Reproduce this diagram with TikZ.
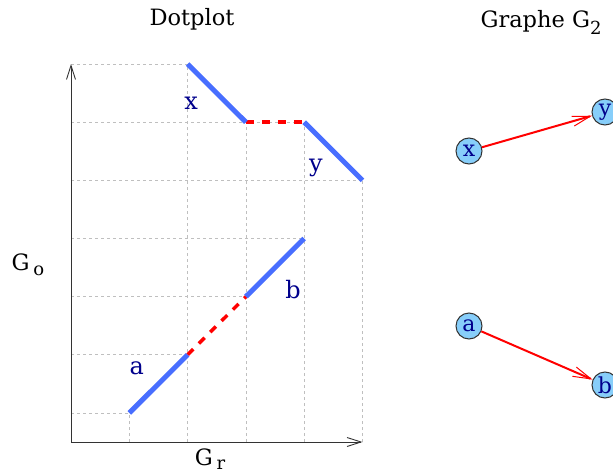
\documentclass[tikz,border=0pt]{standalone}
\usepackage{fontspec}
\setmainfont{DejaVu Serif}
\usetikzlibrary{arrows.meta}

\definecolor{plotblue}{RGB}{72,110,255}
\definecolor{lblnavy}{RGB}{0,0,140}
\definecolor{vertexfill}{RGB}{135,206,250}

\newcommand\lowsub[2][-0.4ex]{\raisebox{#1}{\fontsize{18}{18}\selectfont #2}}

\tikzset{
  gridline/.style={black!25, dash pattern=on 3pt off 3pt, line width=0.6pt},
  axisline/.style={black!80, line width=0.9pt,
    -{Straight Barb[length=14pt,width=9pt,line width=0.9pt]}},
  segment/.style={plotblue, line width=5pt},
  gapline/.style={red, line width=3.5pt, dash pattern=on 8pt off 8pt},
  seglabel/.style={text=lblnavy, font=\fontsize{24}{24}\selectfont},
  titlelabel/.style={font=\fontsize{22.5}{22.5}\selectfont},
  vertex/.style={circle, draw=black!80, fill=vertexfill, line width=1pt,
    minimum size=26pt, inner sep=0pt, text=lblnavy,
    font=\fontsize{22}{22}\selectfont},
  edge/.style={red, line width=2pt,
    -{Straight Barb[length=18pt,width=10pt,line width=1pt]}},
}

\begin{document}
\begin{tikzpicture}[x=1pt,y=1pt]
  \useasboundingbox (0,0) rectangle (613,475);

  %% titles
  \node[titlelabel] (dottitle) at (192,456) {Dotplot};
  \node[titlelabel] (graphtitle) at (541,453) {Graphe G\lowsub[-0.6ex]{2}};
  \node[titlelabel] (gotext) at (28,210) {G\,\lowsub{o}};
  \node[titlelabel] (grtext) at (210,16) {G\,\lowsub[-0.3ex]{r}};

  %% the dotplot
  \begin{scope}[shift={(71,33)}, x=58.3pt, y=58.15pt]
    \foreach \py/\px in {0.5/1, 1.5/2, 2.5/3, 3.5/4, 4.5/5, 5.5/4, 6.5/2}
      \draw[gridline] (0,\py) -- (\px,\py);
    \foreach \px/\py in {1/0.5, 2/6.5, 3/5.5, 4/5.5, 5/4.5}
      \draw[gridline] (\px,0) -- (\px,\py);

    \coordinate (o) at (0,0);
    \coordinate (xend) at (5,0);
    \coordinate (yend) at (0,6.5);
    \draw[axisline] (o) -- (xend);
    \draw[axisline] (o) -- (yend);

    \coordinate (a0) at (1,0.5);
    \coordinate (a1) at (2,1.5);
    \coordinate (b0) at (3,2.5);
    \coordinate (b1) at (4,3.5);
    \coordinate (x0) at (2,6.5);
    \coordinate (x1) at (3,5.5);
    \coordinate (y0) at (4,5.5);
    \coordinate (y1) at (5,4.5);

    \draw[gapline] (a1) -- (b0);
    \draw[gapline] (x1) -- (y0);
    \draw[segment] (a0) -- (a1);
    \draw[segment] (b0) -- (b1);
    \draw[segment] (x0) -- (x1);
    \draw[segment] (y0) -- (y1);

    \node[seglabel] (la) at (1.13,1.26) {a};
    \node[seglabel] (lb) at (3.81,2.63) {b};
    \node[seglabel] (lx) at (2.06,5.83) {x};
    \node[seglabel] (ly) at (4.2,4.71) {y};
  \end{scope}

  %% the graph G2
  \node[vertex] (vx) at (469,324) {x};
  \node[vertex] (vy) at (605,363) {y};
  \node[vertex] (va) at (469,149) {a};
  \node[vertex] (vb) at (605,90) {b};
  \draw[edge] (vx) -- (vy);
  \draw[edge] (va) -- (vb);
\end{tikzpicture}
\end{document}
